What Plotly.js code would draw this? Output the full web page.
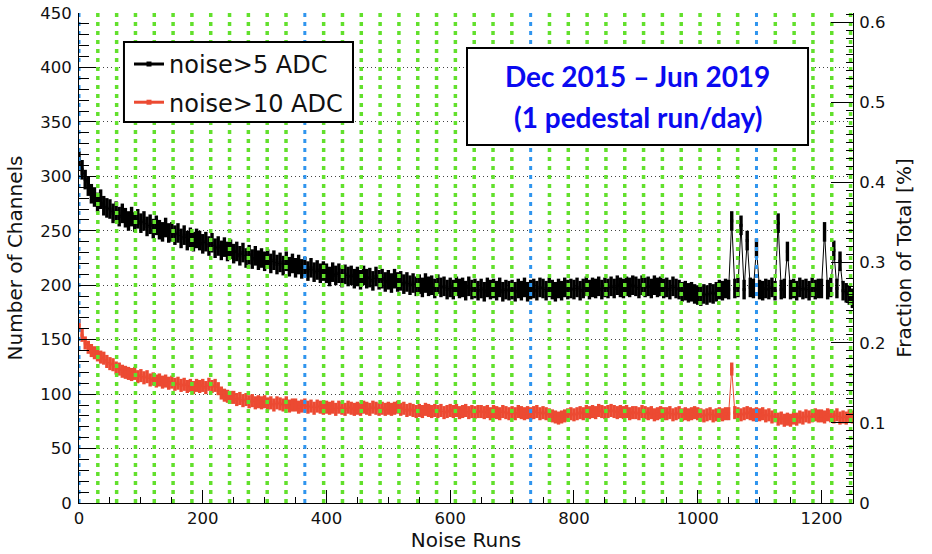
<!DOCTYPE html>
<html>
<head>
<meta charset="utf-8">
<script src="https://cdn.plot.ly/plotly-3.0.1.min.js"></script>
<style>
  html, body { margin: 0; padding: 0; background: #fff; }
  #chart { width: 932px; height: 554px; }
</style>
</head>
<body>
<div id="chart"></div>
<script>
// ---------------- DATA ----------------
// One value every RUN_STEP noise runs (run 0, 5, 10, ... 1250)
const RUN_STEP = 5;

// Number of channels with noise > 5 ADC
const noiseGt5 = [
  314, 306, 297, 291, 284, 281, 276, 279, 273, 271,
  270, 266, 268, 263, 266, 262, 259, 263, 258, 261,
  257, 259, 254, 256, 252, 255, 251, 249, 253, 248,
  249, 246, 248, 243, 246, 241, 244, 240, 243, 241,
  238, 240, 236, 239, 234, 236, 232, 235, 231, 233,
  229, 231, 227, 230, 225, 228, 224, 227, 223, 225,
  222, 224, 220, 223, 219, 221, 218, 222, 217, 220,
  216, 219, 215, 217, 213, 216, 212, 214, 211, 213,
  211, 208, 212, 209, 211, 207, 210, 208, 209, 206,
  208, 205, 209, 206, 207, 204, 208, 205, 206, 203,
  205, 202, 206, 203, 204, 201, 203, 200, 202, 199,
  201, 198, 202, 199, 200, 197, 201, 198, 199, 196,
  198, 196, 199, 197, 198, 195, 199, 196, 197, 195,
  197, 194, 198, 196, 197, 195, 198, 194, 196, 195,
  196, 194, 197, 195, 198, 194, 196, 197, 195, 198,
  197, 195, 198, 196, 194, 197, 195, 198, 196, 197,
  196, 198, 195, 197, 199, 196, 198, 197, 199, 196,
  198, 197, 199, 197, 200, 198, 197, 199, 198, 200,
  199, 197, 200, 198, 199, 197, 200, 198, 199, 197,
  198, 196, 199, 197, 196, 194, 195, 193, 194, 192,
  191, 190, 192, 191, 193, 192, 194, 196, 195, 197,
  196, 259, 197, 198, 255, 196, 241, 198, 197, 234,
  196, 195, 197, 196, 198, 195, 257, 196, 197, 231,
  196, 197, 195, 198, 196, 197, 195, 198, 196, 197,
  197, 249, 196, 198, 232, 197, 222, 195, 193, 191,
  188
];

// Number of channels with noise > 10 ADC
const noiseGt10 = [
  163, 154, 147, 143, 140, 138, 136, 134, 133, 130,
  128, 127, 124, 123, 121, 120, 119, 118, 119, 116,
  117, 115, 116, 113, 114, 112, 113, 111, 112, 110,
  111, 109, 110, 108, 109, 107, 108, 106, 108, 107,
  108, 106, 109, 107, 108, 105, 101, 99, 98, 97,
  97, 95, 96, 94, 95, 93, 94, 92, 93, 92,
  93, 91, 92, 90, 92, 91, 90, 92, 89, 90,
  90, 88, 89, 90, 88, 89, 87, 89, 88, 87,
  88, 87, 88, 86, 88, 87, 86, 88, 87, 86,
  87, 86, 88, 87, 86, 88, 87, 86, 87, 86,
  87, 86, 87, 88, 86, 87, 85, 86, 85, 84,
  85, 84, 86, 85, 84, 85, 84, 85, 83, 84,
  85, 84, 85, 83, 84, 85, 83, 84, 83, 84,
  84, 83, 84, 82, 84, 83, 82, 84, 83, 82,
  83, 82, 84, 83, 82, 83, 82, 83, 84, 82,
  83, 82, 81, 80, 79, 78, 79, 80, 81, 82,
  81, 82, 83, 82, 84, 83, 84, 83, 85, 84,
  83, 84, 85, 84, 83, 84, 83, 84, 82, 83,
  83, 82, 84, 83, 82, 83, 81, 82, 83, 82,
  82, 83, 81, 82, 83, 81, 82, 81, 82, 83,
  82, 81, 80, 81, 82, 80, 81, 82, 81, 82,
  82, 123, 83, 82, 81, 82, 83, 82, 81, 82,
  81, 82, 80, 81, 79, 80, 77, 78, 76, 77,
  76, 78, 77, 79, 78, 80, 79, 80, 81, 80,
  80, 79, 81, 80, 79, 81, 78, 79, 78, 80,
  79
];

const runs = noiseGt5.map((_, i) => i * RUN_STEP);

const seriesNames = ['noise>5 ADC', 'noise>10 ADC'];
const X_TICK_STEP = 200, Y_TICK_STEP = 50, Y2_TICK_STEP = 0.1;
const TOTAL_CHANNELS = 736;          // right axis = channels / total
const DAYS_PER_YEAR = 365;
const boxLines = ['Dec 2015 – Jun 2019', '(1 pedestal run/day)'];

// ---------------- STYLE ----------------
const BLACK = '#000000';
const RED = '#ec4a32';
const GREEN = '#62e02c';
const BLUE = '#2f95ee';
const FONT = 'DejaVu Sans, Liberation Sans, Arial, sans-serif';
const X_MAX = 1251, Y_MAX = 450;

// month (green) / year (blue) reference lines, drawn as line traces
const monthX = [], monthY = [], yearX = [], yearY = [];
const nMonths = Math.floor(X_MAX / (DAYS_PER_YEAR / 12));
for (let k = 0; k <= nMonths; k++) {
  const xv = k * DAYS_PER_YEAR / 12;
  if (k % 12 === 0) { yearX.push(xv, xv, null); yearY.push(0, Y_MAX, null); }
  else { monthX.push(xv, xv, null); monthY.push(0, Y_MAX, null); }
}

// white boxes for legend and date text
const shapes = [
  {type: 'rect', xref: 'paper', yref: 'paper', layer: 'above',
   x0: 0.0581, x1: 0.354, y0: 0.7776, y1: 0.9408,
   fillcolor: '#fff', line: {color: '#000', width: 2}},
  {type: 'rect', xref: 'paper', yref: 'paper', layer: 'above',
   x0: 0.5013, x1: 0.9419, y0: 0.7306, y1: 0.9286,
   fillcolor: '#fff', line: {color: '#000', width: 2}}
];

const traces = [
  {
    x: runs, y: noiseGt5, type: 'scatter', mode: 'lines+markers',
    name: seriesNames[0], showlegend: false, yaxis: 'y',
    line: {color: BLACK, width: 1},
    marker: {color: BLACK, size: 3, symbol: 'square'},
    error_y: {type: 'constant', value: 9, color: BLACK, thickness: 3.4, width: 0}
  },
  {
    x: runs, y: noiseGt10, type: 'scatter', mode: 'lines+markers',
    name: seriesNames[1], showlegend: false, yaxis: 'y',
    line: {color: RED, width: 1},
    marker: {color: RED, size: 3, symbol: 'square'},
    error_y: {type: 'constant', value: 6, color: RED, thickness: 3.4, width: 0}
  },
  {
    x: monthX, y: monthY, type: 'scatter', mode: 'lines', showlegend: false,
    hoverinfo: 'skip', line: {color: GREEN, width: 3.5, dash: '4px,5px'}
  },
  {
    x: yearX, y: yearY, type: 'scatter', mode: 'lines', showlegend: false,
    hoverinfo: 'skip', line: {color: BLUE, width: 3, dash: '4px,5px'}
  },
  // legend entries
  {
    x: [null], y: [null], type: 'scatter', mode: 'lines+markers',
    name: seriesNames[0], legendgroup: 'a', showlegend: true,
    line: {color: BLACK, width: 3}, marker: {color: BLACK, size: 5, symbol: 'square'}
  },
  {
    x: [null], y: [null], type: 'scatter', mode: 'lines+markers',
    name: seriesNames[1], legendgroup: 'b', showlegend: true,
    line: {color: RED, width: 3}, marker: {color: RED, size: 5, symbol: 'square'}
  },
  // invisible trace to activate right axis
  {
    x: [null], y: [null], type: 'scatter', mode: 'lines', yaxis: 'y2',
    showlegend: false, hoverinfo: 'skip'
  }
];

const layout = {
  width: 932, height: 554,
  paper_bgcolor: '#fff', plot_bgcolor: '#fff',
  margin: {l: 79, r: 79, t: 13, b: 51, pad: 0},
  showlegend: true,
  font: {family: FONT, color: '#111'},
  xaxis: {
    range: [0, X_MAX], tickmode: 'linear', tick0: 0, dtick: X_TICK_STEP,
    ticks: 'inside', ticklen: 13, tickwidth: 1, tickcolor: '#000',
    minor: {ticks: 'inside', ticklen: 6, dtick: 50, tick0: 0, tickcolor: '#000', tickwidth: 1, showgrid: false},
    showline: true, linecolor: '#000', linewidth: 1, mirror: false,
    showgrid: false, zeroline: false, layer: 'above traces',
    tickfont: {family: FONT, size: 16.5, color: '#111'},
    title: {text: 'Noise Runs', font: {family: FONT, size: 20, color: '#111'}, standoff: 4},
    automargin: false, fixedrange: true
  },
  yaxis: {
    range: [0, Y_MAX], tickmode: 'linear', tick0: 0, dtick: Y_TICK_STEP,
    ticks: 'inside', ticklen: 17, tickwidth: 1, tickcolor: '#000',
    minor: {ticks: 'inside', ticklen: 10, dtick: 10, tick0: 0, tickcolor: '#000', tickwidth: 1, showgrid: false},
    showline: true, linecolor: '#000', linewidth: 1, layer: 'above traces',
    showgrid: true, gridcolor: '#444', gridwidth: 1, griddash: '1px,3px',
    zeroline: false,
    tickfont: {family: FONT, size: 16.5, color: '#111'},
    ticklabelstandoff: 3,
    title: {text: 'Number of Channels', font: {family: FONT, size: 20, color: '#111'}, standoff: 12},
    automargin: false, fixedrange: true
  },
  yaxis2: {
    overlaying: 'y', side: 'right',
    range: [0, Y_MAX / TOTAL_CHANNELS], tickmode: 'linear', tick0: 0, dtick: Y2_TICK_STEP,
    ticks: 'inside', ticklen: 22, tickwidth: 1, tickcolor: '#000',
    minor: {ticks: 'inside', ticklen: 7, dtick: 0.01, tick0: 0, tickcolor: '#000', tickwidth: 1, showgrid: false},
    showline: true, linecolor: '#000', linewidth: 1,
    showgrid: false, zeroline: false,
    tickfont: {family: FONT, size: 16.5, color: '#111'},
    ticklabelstandoff: 2,
    title: {text: 'Fraction of Total [%]', font: {family: FONT, size: 20, color: '#111'}, standoff: 12},
    automargin: false, fixedrange: true
  },
  legend: {
    x: 0.0646, y: 0.941, xanchor: 'left', yanchor: 'top',
    bgcolor: 'rgba(0,0,0,0)', borderwidth: 0,
    font: {family: FONT, size: 24, color: '#111'},
    tracegroupgap: 4, traceorder: 'grouped'
  },
  shapes: shapes,
  annotations: [
    {xref: 'paper', yref: 'paper', x: 0.7216, y: 0.8714, showarrow: false,
     text: '<b>' + boxLines[0] + '</b>', xanchor: 'center', yanchor: 'middle',
     font: {family: 'Lato, Open Sans, sans-serif', size: 28, color: '#0a0af0'}},
    {xref: 'paper', yref: 'paper', x: 0.7216, y: 0.7878, showarrow: false,
     text: '<b>' + boxLines[1] + '</b>', xanchor: 'center', yanchor: 'middle',
     font: {family: 'Lato, Open Sans, sans-serif', size: 28, color: '#0a0af0'}}
  ]
};

Plotly.newPlot('chart', traces, layout, {displayModeBar: false, staticPlot: true});
</script>
</body>
</html>
